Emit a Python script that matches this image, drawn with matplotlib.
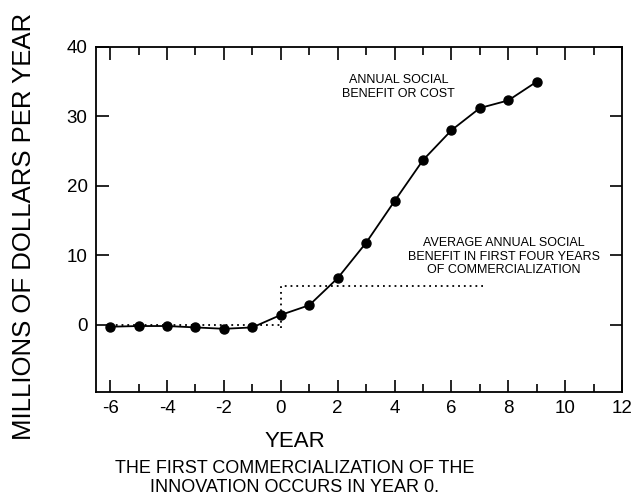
import matplotlib
matplotlib.use("Agg")
import matplotlib.pyplot as plt
from matplotlib.ticker import MultipleLocator

# annual social benefit or cost, millions of dollars per year
years = [-6, -5, -4, -3, -2, -1, 0, 1, 2, 3, 4, 5, 6, 7, 8, 9]
benefit = [-0.3, -0.2, -0.2, -0.4, -0.6, -0.4, 1.4, 2.8, 6.7, 11.8, 17.8, 23.7, 28.0, 31.2, 32.3, 35.0]

# dotted step: average benefit in first four years
avg_x = [-6, 0, 0, 7.1]
avg_y = [0.0, 0.0, 5.5, 5.5]
avg_vline_bottom = -0.5

plt.rcParams['font.family'] = ['Liberation Sans', 'DejaVu Sans']
plt.rcParams['axes.unicode_minus'] = False

fig = plt.figure(figsize=(6.44, 5.03), dpi=100)
ax = fig.add_axes([0.149, 0.2207, 0.817, 0.686])

ax.plot(years, benefit, color='black', lw=1.3, marker='o', ms=6.5)
ax.plot(avg_x, avg_y, color='black', lw=1.3, linestyle=(0, (1, 2.2)))
ax.plot([0, 0], [avg_vline_bottom, 0], color='black', lw=1.3, linestyle=(0, (1, 2.2)))

ax.set_xlim(-6.5, 12)
ax.set_ylim(-9.7, 40)
ax.xaxis.set_major_locator(MultipleLocator(2))
ax.xaxis.set_minor_locator(MultipleLocator(1))
ax.yaxis.set_major_locator(MultipleLocator(10))
ax.tick_params(which='both', direction='in', top=True, right=True, labelsize=13.5, pad=6)
ax.tick_params(which='major', length=9, width=1.2)
ax.tick_params(which='minor', length=6, width=1.2)
for s in ax.spines.values():
    s.set_linewidth(1.3)

ax.text(4.13, 34.2, 'ANNUAL SOCIAL\nBENEFIT OR COST', ha='center', va='center',
        fontsize=9, linespacing=1.2)
ax.text(7.83, 9.8, 'AVERAGE ANNUAL SOCIAL\nBENEFIT IN FIRST FOUR YEARS\nOF COMMERCIALIZATION',
        ha='center', va='center', fontsize=9, linespacing=1.2)

fig.text(0.037, 0.55, 'MILLIONS OF DOLLARS PER YEAR', rotation=90, ha='center', va='center',
         fontsize=18.5)
ax.set_xlabel('YEAR', fontsize=16, labelpad=10, x=0.378)
fig.text(0.457, 0.05, 'THE FIRST COMMERCIALIZATION OF THE\nINNOVATION OCCURS IN YEAR 0.',
         ha='center', va='center', fontsize=13, linespacing=1.2)

fig.savefig('out.png', dpi=100)
